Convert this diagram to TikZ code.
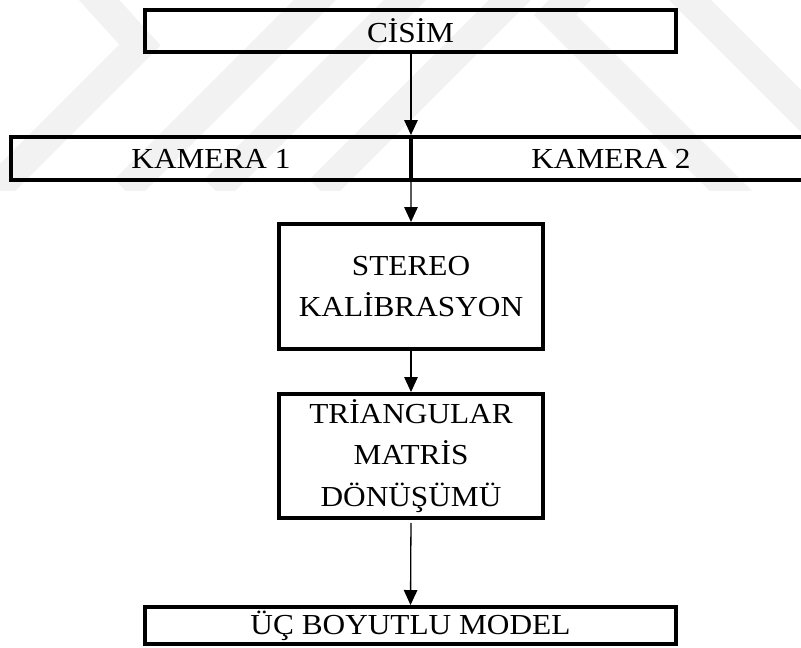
\documentclass[tikz,border=0pt]{standalone}
\usepackage{fontspec}
\setmainfont{Liberation Serif}[FakeStretch=1.08]
\usetikzlibrary{positioning,arrows.meta}

\begin{document}
\begin{tikzpicture}[x=0.02cm,y=-0.02cm,
    kutu/.style={draw,line width=0.08cm,outer sep=0pt,inner sep=0pt,align=center,
      font=\fontsize{16.5}{23.4}\selectfont},
    ok/.style={-{Triangle[width=0.27cm,length=0.3cm]},line width=0.026cm,shorten >=0.04cm},
    filigran/.style={line width=0.6cm,black!5,line join=miter}]
\useasboundingbox (0,0) rectangle (801,647);
% filigran
\begin{scope}
  \clip (0,0) rectangle (801,190);
  \draw[filigran] (90,-10) -- (140,45) -- (-20,205);
  \draw[filigran] (325,-10) -- (125,190);
  \draw[filigran] (415,-10) -- (215,190);
  \draw[filigran] (520,-10) -- (320,190);
  \draw[filigran] (590,-20) -- (555,15) -- (760,220);
  \draw[filigran] (680,-10) -- (880,190);
\end{scope}

\node[kutu,minimum width=10.62cm,minimum height=0.84cm] (cisim) at (410.5,31) {CİSİM};
\node[kutu,minimum width=8cm,minimum height=0.86cm] (kamera1) at (211,158.5) {KAMERA 1};
\node[kutu,minimum width=8cm,minimum height=0.86cm,right=0pt of kamera1] (kamera2) {KAMERA 2};
\node[kutu,minimum width=5.28cm,minimum height=2.5cm] (stereo) at (411,286.5) {STEREO\\KALİBRASYON};
\node[kutu,minimum width=5.28cm,minimum height=2.48cm] (triang) at (411,456) {TRİANGULAR\\MATRİS\\DÖNÜŞÜMÜ};
\node[kutu,minimum width=10.62cm,minimum height=0.74cm] (model) at (410.5,625.5) {ÜÇ BOYUTLU MODEL};

\draw[ok] (cisim.south -| kamera1.east) -- (kamera1.north east);
\draw[ok] (kamera1.south east) -- (stereo.north);
\draw[ok] (stereo.south) -- (triang.north);
\draw[ok,shorten <=0.1cm] (triang.south) -- (model.north);
\end{tikzpicture}
\end{document}
